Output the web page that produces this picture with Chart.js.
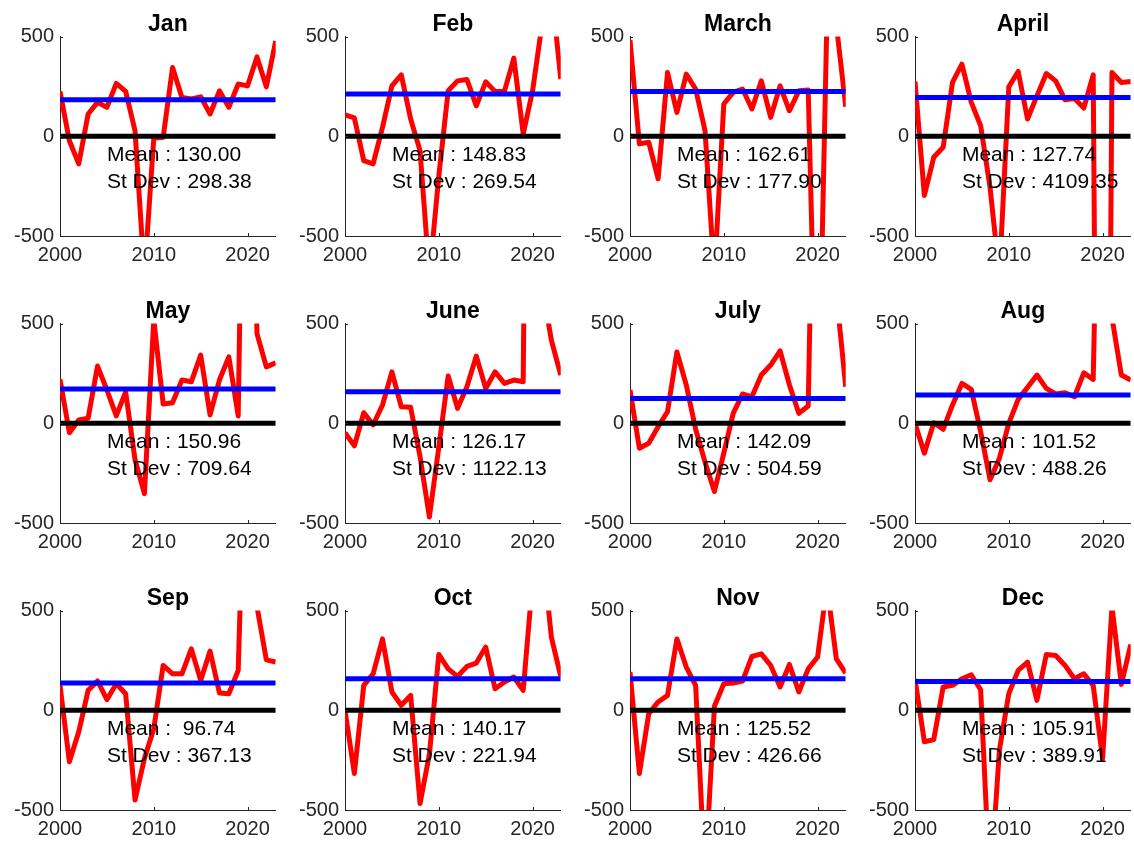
<!DOCTYPE html>
<html>
<head>
<meta charset="utf-8">
<title>Monthly series</title>
<script src="https://cdn.jsdelivr.net/npm/chart.js@4.4.0/dist/chart.umd.min.js"></script>
<style>
    body { margin: 0; background: #fff; width: 1134px; height: 842px; position: relative; overflow: hidden; }
    .panel { position: absolute; width: 277px; height: 287px; }
</style>
</head>
<body>
<script>
// Datos (2000 - 2023)
const years = [2000, 2001, 2002, 2003, 2004, 2005, 2006, 2007, 2008, 2009, 2010, 2011,
               2012, 2013, 2014, 2015, 2016, 2017, 2018, 2019, 2020, 2021, 2022, 2023];

const jan   = [225, -22, -138, 112, 170, 145, 265, 225, 28, -700, -10, -5, 345, 195, 187, 198, 112, 228, 145, 262, 253, 398, 248, 478];
const feb   = [107, 92, -122, -138, 45, 253, 308, 87, -72, -700, -200, 228, 278, 285, 153, 273, 225, 225, 392, 12, 228, 560, 750, 287];
const march = [482, -38, -30, -213, 320, 120, 312, 237, 28, -700, 162, 220, 237, 137, 278, 95, 253, 128, 228, 232, -1600, 600, 560, 148];
const april = [275, -297, -105, -55, 270, 362, 170, 53, -255, -700, 248, 325, 87, 203, 315, 278, 183, 190, 142, 308, -6000, 320, 270, 275];
const may   = [220, -47, 17, 25, 287, 167, 37, 158, -183, -353, 520, 97, 103, 217, 208, 342, 42, 217, 333, 37, 3000, 450, 283, 303];
const june  = [-47, -113, 53, -8, 92, 258, 83, 80, -167, -470, -120, 237, 75, 183, 337, 175, 258, 200, 217, 208, 5500, 700, 417, 242];
const july  = [167, -125, -100, -17, 58, 358, 192, -30, -195, -342, -150, 50, 147, 133, 242, 292, 363, 192, 50, 87, 2500, 1200, 650, 183];
const aug   = [0, -150, 3, -30, 92, 200, 170, -42, -283, -175, 0, 120, 180, 242, 175, 147, 153, 133, 253, 220, 2500, 530, 242, 217];
const sep   = [125, -258, -108, 100, 147, 53, 133, 83, -450, -242, -92, 225, 183, 183, 308, 150, 297, 87, 83, 200, 1800, 520, 253, 242];
const oct   = [0, -317, 125, 183, 358, 92, 25, 75, -467, -220, 280, 208, 170, 220, 237, 317, 108, 142, 167, 100, 650, 830, 367, 170];
const nov   = [192, -317, -17, 42, 75, 358, 217, 125, -850, 20, 133, 137, 147, 270, 283, 225, 117, 230, 92, 208, 267, 625, 258, 187];
const dec   = [158, -158, -147, 117, 125, 158, 178, 103, -900, -200, 83, 200, 242, 50, 280, 275, 225, 158, 183, 125, -242, 520, 130, 330];

const series     = [jan, feb, march, april, may, june, july, aug, sep, oct, nov, dec];
const monthNames = ['Jan', 'Feb', 'March', 'April', 'May', 'June', 'July', 'Aug', 'Sep', 'Oct', 'Nov', 'Dec'];
const blueLevels = [183, 212, 225, 195, 172, 158, 125, 142, 137, 158, 158, 145];
const meanLabels = ['130.00', '148.83', '162.61', '127.74', '150.96', '126.17', '142.09', '101.52', ' 96.74', '140.17', '125.52', '105.91'];
const stdLabels  = ['298.38', '269.54', '177.90', '4109.35', '709.64', '1122.13', '504.59', '488.26', '367.13', '221.94', '426.66', '389.91'];

const xTicks = [2000, 2010, 2020];
const yTicks = [-500, 0, 500];

const FAMILY = '"Liberation Sans", Arial, Helvetica, sans-serif';

// Texto "Mean / St Dev" dentro de cada panel
const statsText = {
    id: 'statsText',
    afterDatasetsDraw(chart, args, opts) {
        const { ctx, scales: { x, y } } = chart;
        ctx.save();
        ctx.font = '21px ' + FAMILY;
        ctx.fillStyle = '#000';
        ctx.textAlign = 'left';
        ctx.textBaseline = 'middle';
        ctx.fillText('Mean : ' + opts.mean, x.getPixelForValue(2005), y.getPixelForValue(-95));
        ctx.fillText('St Dev : ' + opts.std, x.getPixelForValue(2005), y.getPixelForValue(-232));
        ctx.restore();
    }
};

// Marcas de los ejes hacia dentro (estilo MATLAB)
const inwardTicks = {
    id: 'inwardTicks',
    afterDatasetsDraw(chart) {
        const { ctx, chartArea, scales: { x, y } } = chart;
        ctx.save();
        ctx.strokeStyle = '#262626';
        ctx.lineWidth = 1;
        ctx.beginPath();
        xTicks.forEach(v => {
            const px = Math.round(x.getPixelForValue(v)) + 0.5;
            ctx.moveTo(px, chartArea.bottom);
            ctx.lineTo(px, chartArea.bottom - 3);
        });
        yTicks.forEach(v => {
            const py = Math.round(y.getPixelForValue(v)) + 0.5;
            ctx.moveTo(chartArea.left, py);
            ctx.lineTo(chartArea.left + 3, py);
        });
        ctx.stroke();
        ctx.restore();
    }
};

function crearPanel(i) {
    const col = i % 4;
    const row = Math.floor(i / 4);

    const div = document.createElement('div');
    div.className = 'panel';
    div.style.left = (col * 285) + 'px';
    div.style.top = (row * 287) + 'px';
    const canvas = document.createElement('canvas');
    canvas.width = 277;
    canvas.height = 287;
    div.appendChild(canvas);
    document.body.appendChild(div);

    const puntos = years.map((yr, k) => ({ x: yr, y: series[i][k] }));
    const first = years[0], last = years[years.length - 1];

    new Chart(canvas.getContext('2d'), {
        type: 'line',
        data: {
            datasets: [
                {
                    data: [{ x: first, y: 0 }, { x: last, y: 0 }],
                    borderColor: '#000000', borderWidth: 5, order: 1, clip: 0
                },
                {
                    data: [{ x: first, y: blueLevels[i] }, { x: last, y: blueLevels[i] }],
                    borderColor: '#0000ff', borderWidth: 5, order: 2, clip: 0
                },
                {
                    data: puntos,
                    borderColor: '#ff0000', borderWidth: 5, order: 3, clip: 0,
                    borderJoinStyle: 'round'
                }
            ]
        },
        options: {
            responsive: false,
            animation: false,
            events: [],
            elements: {
                point: { radius: 0 },
                line: { tension: 0, fill: false }
            },
            layout: { padding: 0 },
            plugins: {
                legend: { display: false },
                tooltip: { enabled: false },
                title: {
                    display: true,
                    fullSize: false, // centrado sobre el area del grafico
                    text: monthNames[i],
                    color: '#000',
                    font: { family: FAMILY, size: 23, weight: 'bold', lineHeight: 1.2 },
                    padding: { top: 11, bottom: -2 }
                },
                statsText: { mean: meanLabels[i], std: stdLabels[i] }
            },
            scales: {
                x: {
                    type: 'linear',
                    min: 2000,
                    max: 2023,
                    afterBuildTicks: s => { s.ticks = xTicks.map(v => ({ value: v })); },
                    afterFit: s => { s.height = 51; },
                    grid: { display: false, drawTicks: false },
                    border: { display: true, color: '#262626', width: 1 },
                    ticks: {
                        color: '#262626',
                        font: { family: FAMILY, size: 20 },
                        padding: 7,
                        maxRotation: 0,
                        autoSkip: false,
                        callback: v => String(v)
                    }
                },
                y: {
                    type: 'linear',
                    min: -500,
                    max: 500,
                    afterBuildTicks: s => { s.ticks = yTicks.map(v => ({ value: v })); },
                    afterFit: s => { s.width = 60; },
                    grid: { display: false, drawTicks: false },
                    border: { display: true, color: '#262626', width: 1 },
                    ticks: {
                        color: '#262626',
                        font: { family: FAMILY, size: 20 },
                        padding: 6,
                        autoSkip: false,
                        callback: v => String(v)
                    }
                }
            }
        },
        plugins: [statsText, inwardTicks]
    });
}

for (let i = 0; i < 12; i++) {
    crearPanel(i);
}
</script>
</body>
</html>
